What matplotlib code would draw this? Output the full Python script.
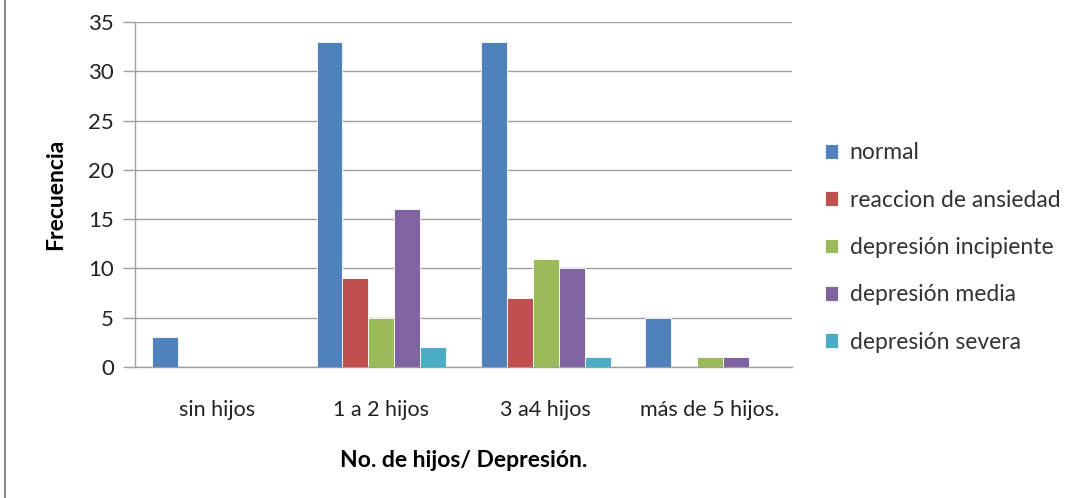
import numpy as np
import matplotlib.pyplot as plt
from matplotlib.lines import Line2D

plt.rcParams['font.family'] = ['Lato', 'DejaVu Sans']

categorias = ["sin hijos", "1 a 2 hijos", "3 a4 hijos", "más de 5 hijos."]
series = ["normal", "reaccion de ansiedad", "depresión incipiente",
          "depresión media", "depresión severa"]
normal = [3, 33, 33, 5]
ansiedad = [0, 9, 7, 0]
incipiente = [0, 5, 11, 1]
media = [0, 16, 10, 1]
severa = [0, 2, 1, 0]
valores = [normal, ansiedad, incipiente, media, severa]
colores = ["#4F81BD", "#C0504D", "#9BBB59", "#8064A2", "#4BACC6"]

fig = plt.figure(figsize=(10.79, 4.98), dpi=100)
ax = fig.add_axes([0.1251, 0.263, 0.609, 0.693])

x = np.arange(len(categorias))
ancho = 0.158
for i, (nombre, vals) in enumerate(zip(series, valores)):
    pos = x + (i - 2) * ancho
    ax.bar(pos, vals, width=ancho, color=colores[i], edgecolor="white",
           linewidth=0.6, label=nombre, zorder=3)

ax.set_xlim(-0.5, len(categorias) - 0.5)
ax.set_ylim(0, 35)
ax.set_yticks(range(0, 36, 5))
ax.yaxis.grid(True, color="#A0A0A0", linewidth=1.0, zorder=0)
ax.set_xticks(x)
ax.set_xticklabels(categorias, fontsize=15.5, color="#222222")
ax.tick_params(axis="x", length=0, pad=24)
ax.tick_params(axis="y", length=9, width=1.0, color="#A0A0A0",
               labelsize=16, labelcolor="#222222", pad=6)
for s in ["top", "right"]:
    ax.spines[s].set_visible(False)
for s in ["left", "bottom"]:
    ax.spines[s].set_color("#A0A0A0")
    ax.spines[s].set_linewidth(1.0)

ax.set_ylabel("Frecuencia", fontsize=16.5, fontweight="bold", labelpad=16)
ax.set_xlabel("No. de hijos/ Depresión.", fontsize=16.5, fontweight="bold",
              labelpad=21)

ax.legend(loc="center left", bbox_to_anchor=(1.018, 0.346), frameon=False,
          fontsize=16.5, handlelength=0.6, handleheight=0.6,
          handletextpad=0.5, labelspacing=1.15, labelcolor="#333333")

fig.add_artist(Line2D([0.005, 0.005], [0, 1], transform=fig.transFigure,
                      color="#888888", linewidth=1.5))

fig.savefig("out.png", dpi=100)
